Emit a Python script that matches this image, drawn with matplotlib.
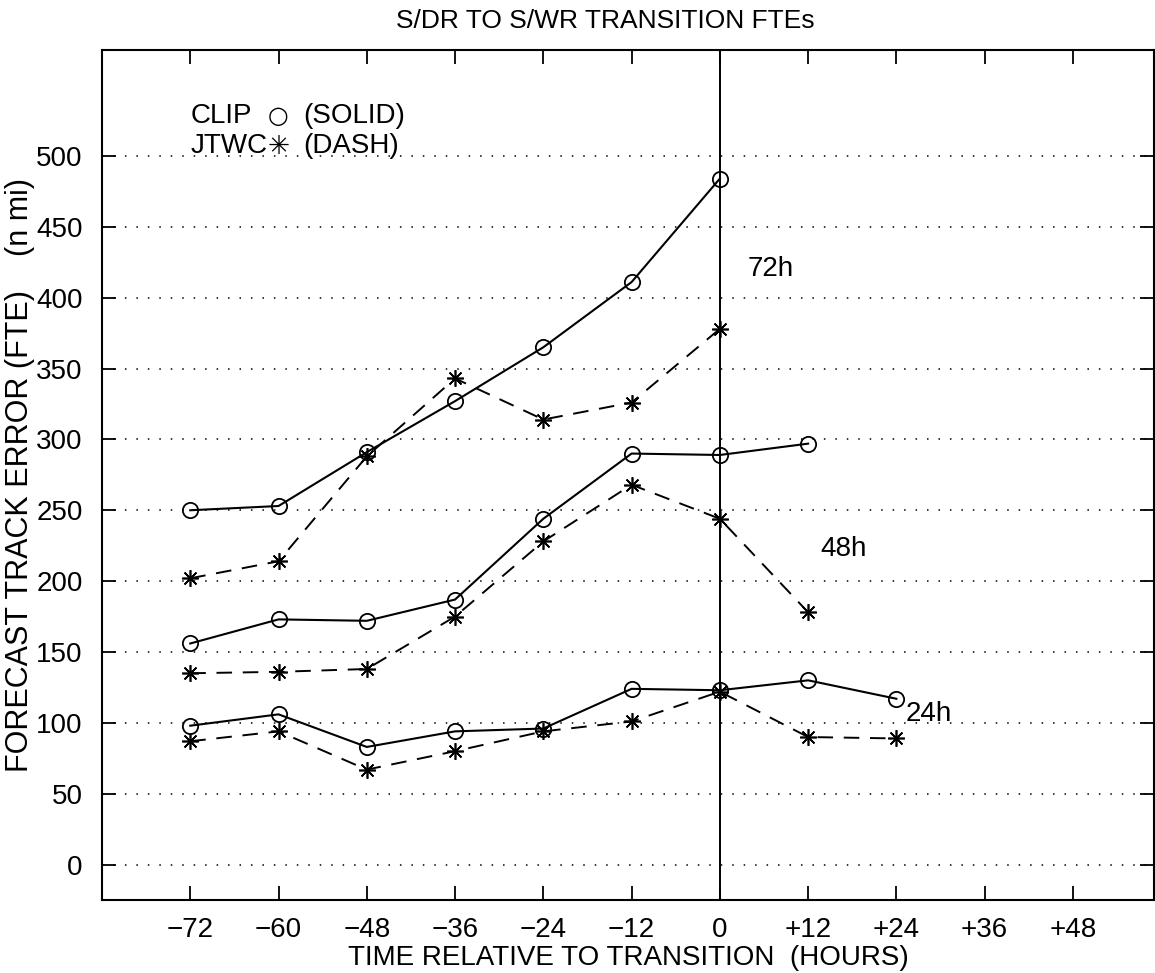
import matplotlib
matplotlib.use("Agg")
import matplotlib.pyplot as plt

plt.rcParams['font.family'] = ['Liberation Sans', 'DejaVu Sans']

hours = [-72, -60, -48, -36, -24, -12, 0, 12, 24]

clip_72 = [250, 253, 291, 327, 365, 411, 484]
jtwc_72 = [202, 214, 288, 343, 314, 326, 378]
clip_48 = [156, 173, 172, 187, 244, 290, 289, 297]
jtwc_48 = [135, 136, 138, 175, 228, 268, 244, 178]
clip_24 = [98, 106, 83, 94, 96, 124, 123, 130, 117]
jtwc_24 = [87, 94, 67, 80, 94, 101, 122, 90, 89]

xticks = [-72, -60, -48, -36, -24, -12, 0, 12, 24, 36, 48]
xticklabels = ['\u221272', '\u221260', '\u221248', '\u221236', '\u221224', '\u221212',
               '0', '+12', '+24', '+36', '+48']
yticks = [0, 50, 100, 150, 200, 250, 300, 350, 400, 450, 500]

FS = 20

fig = plt.figure(figsize=(11.55, 9.73), dpi=100)
ax = fig.add_axes([0.0883, 0.075, 0.9107, 0.874])

ax.set_xlim(-84, 59)
ax.set_ylim(-25, 575)

for y in yticks:
    ax.axhline(y, color='black', lw=1.1, linestyle=(0, (1, 6.5)), zorder=1)
ax.axvline(0, color='black', lw=1.4, zorder=2)

ast = (8, 2, 0)
solid_kw = dict(color='black', lw=1.5, marker='o', markersize=11,
                markerfacecolor='none', markeredgecolor='black', markeredgewidth=1.3, zorder=3)
dash_kw = dict(color='black', lw=1.4, dashes=(8, 5.5), marker=ast, markersize=12,
               markeredgewidth=1.2, zorder=3)

ax.plot(hours[:len(clip_72)], clip_72, **solid_kw)
ax.plot(hours[:len(jtwc_72)], jtwc_72, **dash_kw)
ax.plot(hours[:len(clip_48)], clip_48, **solid_kw)
ax.plot(hours[:len(jtwc_48)], jtwc_48, **dash_kw)
ax.plot(hours[:len(clip_24)], clip_24, **solid_kw)
ax.plot(hours[:len(jtwc_24)], jtwc_24, **dash_kw)

ax.text(3.8, 420, '72h', fontsize=FS, va='center', ha='left')
ax.text(13.6, 223, '48h', fontsize=FS, va='center', ha='left')
ax.text(25.3, 106, '24h', fontsize=FS, va='center', ha='left')

# legend-like annotation
ax.text(-72.0, 528, 'CLIP', fontsize=FS, va='center', ha='left')
ax.text(-60.0, 528, '\u25cb', fontsize=17, va='center', ha='center', family=['DejaVu Sans'])
ax.text(-56.6, 528, '(SOLID)', fontsize=FS, va='center', ha='left')
ax.text(-72.0, 507, 'JTWC', fontsize=FS, va='center', ha='left')
ax.text(-60.0, 506, '\u2733', fontsize=19, va='center', ha='center', family=['DejaVu Sans'])
ax.text(-56.6, 507, '(DASH)', fontsize=FS, va='center', ha='left')

ax.set_xticks(xticks)
ax.set_xticklabels(xticklabels, fontsize=FS)
ax.set_yticks(yticks)
ax.set_yticklabels([str(v) for v in yticks], fontsize=FS)
ax.tick_params(axis='both', direction='in', length=10, width=1.3,
               top=True, right=True, pad=12)
ax.tick_params(axis='y', pad=14)

for sp in ax.spines.values():
    sp.set_linewidth(1.5)

ax.set_xlabel('TIME RELATIVE TO TRANSITION  (HOURS)', fontsize=FS, labelpad=2)
ax.set_ylabel('FORECAST TRACK ERROR (FTE)    (n mi)', fontsize=22)
ax.yaxis.set_label_coords(-0.064, 0.5)
fig.text(0.524, 0.978, 'S/DR TO S/WR TRANSITION FTEs', fontsize=19, ha='center', va='center')

fig.savefig('out.png', dpi=100)
